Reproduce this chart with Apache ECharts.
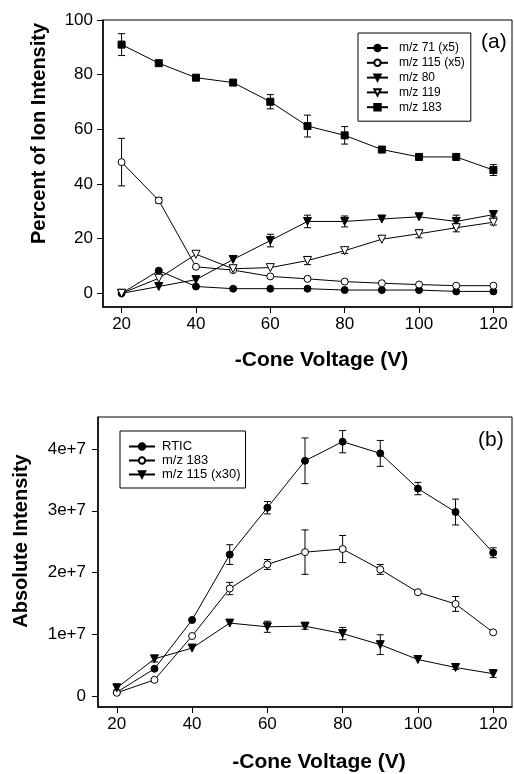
<!DOCTYPE html>
<html>
<head>
<meta charset="utf-8">
<script src="https://cdn.jsdelivr.net/npm/echarts@6/dist/echarts.min.js"></script>
<style>
  html, body { margin: 0; padding: 0; background: #fff; }
  #chart { width: 514px; height: 774px; }
</style>
</head>
<body>
<div id="chart"></div>
<script>
// Cone voltage (V), shared by both panels
const voltage = [20, 30, 40, 50, 60, 70, 80, 90, 100, 110, 120];
const xTicks = [20, 40, 60, 80, 100, 120];

// Panel (a): percent of ion intensity
const pctTicks = [0, 20, 40, 60, 80, 100];
const mz71x5 = [0, 8.3, 2.5, 1.7, 1.7, 1.7, 1.2, 1.2, 1.2, 0.7, 0.7];
const mz115x5 = [48, 34, 9.7, 8.5, 6.2, 5.3, 4.3, 3.7, 3.2, 2.8, 2.8];
const mz80 = [0, 2.5, 5.0, 12.4, 19.3, 26.3, 26.3, 27.2, 28.0, 26.3, 28.8];
const mz119 = [0, 5.5, 14.3, 9.0, 9.4, 12.0, 15.6, 19.8, 21.8, 24.0, 26.0];
const mz183 = [91, 84.2, 78.9, 77.1, 70.1, 61.2, 57.8, 52.6, 49.9, 49.9, 45.1];
// standard deviations (a)
const mz115x5Err = [8.7, 1, 0, 0, 0, 0, 0, 0, 0, 0, 0];
const mz80Err = [0, 0, 0, 0, 2.3, 2.3, 2, 0, 0, 2.3, 0.8];
const mz119Err = [0, 0, 0, 0, 0, 1.5, 1, 0, 1.5, 1.5, 1];
const mz183Err = [4, 0, 0, 0, 2.6, 4, 3.2, 0, 1, 0, 2];

// Panel (b): absolute intensity
const absTicks = [0, 1e7, 2e7, 3e7, 4e7];
const rtic = [0.6e6, 4.4e6, 12.3e6, 22.9e6, 30.5e6, 38.1e6, 41.2e6, 39.3e6, 33.6e6, 29.8e6, 23.2e6];
const abs183 = [0.5e6, 2.6e6, 9.7e6, 17.4e6, 21.3e6, 23.3e6, 23.8e6, 20.5e6, 16.8e6, 14.9e6, 10.3e6];
const abs115x30 = [1.3e6, 6.0e6, 7.75e6, 11.8e6, 11.2e6, 11.3e6, 10.1e6, 8.3e6, 5.9e6, 4.6e6, 3.6e6];
// standard deviations (b)
const rticErr = [0, 0, 0, 1.6e6, 1e6, 3.7e6, 1.8e6, 2.1e6, 1e6, 2.1e6, 0.8e6];
const abs183Err = [0, 0, 0, 1e6, 0.8e6, 3.6e6, 2.2e6, 0.8e6, 0, 1.2e6, 0];
const abs115x30Err = [0.6e6, 0.5e6, 0, 0, 0.9e6, 0.5e6, 1e6, 1.6e6, 0, 0.3e6, 0.6e6];

const FONT = '"Liberation Sans", Arial, sans-serif';

function pairs(ys) { return voltage.map((x, i) => [x, ys[i]]); }

function lineSeries(name, ys, symbol, filled, xi, size) {
  return {
    name, type: 'line', xAxisIndex: xi, yAxisIndex: xi,
    data: pairs(ys),
    symbol: symbol === 'down' ? 'triangle' : symbol,
    symbolRotate: symbol === 'down' ? 180 : 0,
    symbolSize: size,
    showAllSymbol: true,
    lineStyle: { color: '#000', width: 1 },
    itemStyle: { color: filled ? '#000' : '#fff', borderColor: '#000', borderWidth: 1 },
    z: 3,
    animation: false
  };
}

function errorBars(ys, errs, xi) {
  const data = [];
  voltage.forEach((x, i) => { if (errs[i] > 0) data.push([x, ys[i] - errs[i], ys[i] + errs[i]]); });
  return {
    type: 'custom', xAxisIndex: xi, yAxisIndex: xi, data, z: 2, silent: true, animation: false,
    encode: { x: 0, y: [1, 2] },
    renderItem(params, api) {
      const x = api.value(0);
      const lo = api.coord([x, api.value(1)]);
      const hi = api.coord([x, api.value(2)]);
      const w = 3.5;
      const st = { stroke: '#000', lineWidth: 1 };
      return {
        type: 'group',
        children: [
          { type: 'line', shape: { x1: lo[0], y1: lo[1], x2: hi[0], y2: hi[1] }, style: st },
          { type: 'line', shape: { x1: lo[0] - w, y1: lo[1], x2: lo[0] + w, y2: lo[1] }, style: st },
          { type: 'line', shape: { x1: hi[0] - w, y1: hi[1], x2: hi[0] + w, y2: hi[1] }, style: st }
        ]
      };
    }
  };
}

function xAxis(gi, gap) {
  return {
    type: 'value', gridIndex: gi, min: 15, max: 125,
    name: '-Cone Voltage (V)', nameLocation: 'middle', nameGap: gap,
    nameTextStyle: { fontFamily: FONT, fontSize: 21, fontWeight: 'bold', color: '#000', padding: [0, 0, 0, 28] },
    axisLine: { show: true, onZero: false, lineStyle: { color: '#000', width: 1.5 } },
    axisTick: { show: true, inside: false, length: 6, customValues: xTicks, lineStyle: { color: '#000', width: 1 } },
    axisLabel: { customValues: xTicks, margin: 9, fontFamily: FONT, fontSize: 17, color: '#000' },
    splitLine: { show: false }
  };
}

const option = {
  backgroundColor: '#fff',
  animation: false,
  grid: [
    { left: 103, top: 20, width: 409, height: 287, show: true, borderColor: '#000', borderWidth: 1, backgroundColor: 'transparent' },
    { left: 98, top: 417, width: 414, height: 290, show: true, borderColor: '#000', borderWidth: 1, backgroundColor: 'transparent' }
  ],
  xAxis: [xAxis(0, 43), xAxis(1, 45)],
  yAxis: [
    {
      type: 'value', gridIndex: 0, min: -5, max: 100,
      name: 'Percent of Ion Intensity', nameLocation: 'middle', nameGap: 54, nameRotate: 90,
      nameTextStyle: { fontFamily: FONT, fontSize: 20, fontWeight: 'bold', color: '#000', padding: [0, 0, 0, 60] },
      axisLine: { show: true, onZero: false, lineStyle: { color: '#000', width: 1.5 } },
      axisTick: { show: true, length: 6, customValues: pctTicks, lineStyle: { color: '#000', width: 1 } },
      axisLabel: { customValues: pctTicks, margin: 10, fontFamily: FONT, fontSize: 17, color: '#000' },
      splitLine: { show: false }
    },
    {
      type: 'value', gridIndex: 1, min: -1.8e6, max: 4.52e7,
      name: 'Absolute Intensity', nameLocation: 'middle', nameGap: 67, nameRotate: 90,
      nameTextStyle: { fontFamily: FONT, fontSize: 20, fontWeight: 'bold', color: '#000', padding: [0, 0, 0, 42] },
      axisLine: { show: true, onZero: false, lineStyle: { color: '#000', width: 1.5 } },
      axisTick: { show: true, length: 6, customValues: absTicks, lineStyle: { color: '#000', width: 1 } },
      axisLabel: {
        customValues: absTicks, margin: 12, fontFamily: FONT, fontSize: 17, color: '#000',
        formatter: v => (v === 0 ? '0' : Math.round(v / 1e7) + 'e+7')
      },
      splitLine: { show: false }
    }
  ],
  legend: [
    {
      orient: 'vertical', left: 358, top: 33,
      data: ['m/z 71 (x5)', 'm/z 115 (x5)', 'm/z 80', 'm/z 119', 'm/z 183'],
      borderColor: '#000', borderWidth: 1, padding: [9, 6, 8, 8],
      itemWidth: 21, itemHeight: 8, itemGap: 2.8,
      selectedMode: false,
      textStyle: { fontFamily: FONT, fontSize: 12, color: '#000', padding: [0, 0, 0, 6] }
    },
    {
      orient: 'vertical', left: 120, top: 431,
      data: ['RTIC', 'm/z\u00a0183', 'm/z 115 (x30)'],
      borderColor: '#000', borderWidth: 1, padding: [9, 5, 7, 8],
      itemWidth: 26, itemHeight: 8, itemGap: 1,
      selectedMode: false,
      textStyle: { fontFamily: FONT, fontSize: 13, color: '#000', padding: [0, 0, 0, 2] }
    }
  ],
  graphic: [
    { type: 'text', left: 481, top: 32, style: { text: '(a)', font: '21px ' + FONT, fill: '#000' } },
    { type: 'text', left: 478, top: 430, style: { text: '(b)', font: '21px ' + FONT, fill: '#000' } }
  ],
  series: [
    errorBars(mz115x5, mz115x5Err, 0),
    errorBars(mz80, mz80Err, 0),
    errorBars(mz119, mz119Err, 0),
    errorBars(mz183, mz183Err, 0),
    lineSeries('m/z 71 (x5)', mz71x5, 'circle', true, 0, 7),
    lineSeries('m/z 115 (x5)', mz115x5, 'circle', false, 0, 7),
    lineSeries('m/z 80', mz80, 'down', true, 0, 8),
    lineSeries('m/z 119', mz119, 'down', false, 0, 8),
    lineSeries('m/z 183', mz183, 'rect', true, 0, 7),

    errorBars(rtic, rticErr, 1),
    errorBars(abs183, abs183Err, 1),
    errorBars(abs115x30, abs115x30Err, 1),
    lineSeries('RTIC', rtic, 'circle', true, 1, 7),
    lineSeries('m/z\u00a0183', abs183, 'circle', false, 1, 7),
    lineSeries('m/z 115 (x30)', abs115x30, 'down', true, 1, 8)
  ]
};

const chart = echarts.init(document.getElementById('chart'), null, { renderer: 'canvas' });
chart.setOption(option);
</script>
</body>
</html>
